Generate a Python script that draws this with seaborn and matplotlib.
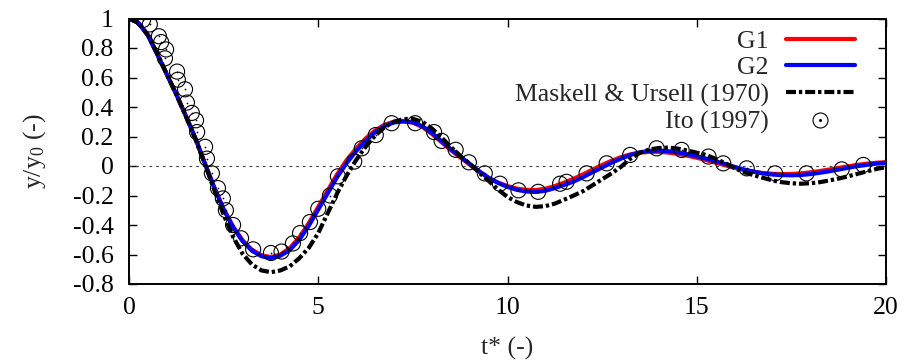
import matplotlib
matplotlib.use("Agg")
import matplotlib.pyplot as plt
import seaborn as sns
import pandas as pd
from matplotlib.lines import Line2D
from matplotlib.legend_handler import HandlerTuple

# ---------------- data ----------------
t_curve = [0.00, 0.25, 0.50, 0.75, 1.00, 1.25, 1.50, 1.75, 2.00, 2.25,
           2.50, 2.75, 3.00, 3.25, 3.50, 3.75, 4.00, 4.25, 4.50, 4.75,
           5.00, 5.25, 5.50, 5.75, 6.00, 6.25, 6.50, 6.75, 7.00, 7.25,
           7.50, 7.75, 8.00, 8.25, 8.50, 8.75, 9.00, 9.25, 9.50, 9.75,
           10.00, 10.25, 10.50, 10.75, 11.00, 11.25, 11.50, 11.75, 12.00, 12.25,
           12.50, 12.75, 13.00, 13.25, 13.50, 13.75, 14.00, 14.25, 14.50, 14.75,
           15.00, 15.25, 15.50, 15.75, 16.00, 16.25, 16.50, 16.75, 17.00, 17.25,
           17.50, 17.75, 18.00, 18.25, 18.50, 18.75, 19.00, 19.25, 19.50, 19.75,
           20.00]

g1 = [1.000, 0.970, 0.886, 0.757, 0.622, 0.487, 0.342, 0.192, 0.022, -0.143,
      -0.291, -0.410, -0.503, -0.568, -0.605, -0.618, -0.600, -0.556, -0.484, -0.387,
      -0.277, -0.166, -0.056, 0.040, 0.118, 0.186, 0.240, 0.280, 0.300, 0.304,
      0.294, 0.265, 0.218, 0.163, 0.108, 0.058, 0.010, -0.038, -0.080, -0.112,
      -0.136, -0.153, -0.162, -0.163, -0.154, -0.136, -0.112, -0.086, -0.056, -0.024,
      0.007, 0.036, 0.060, 0.079, 0.091, 0.096, 0.096, 0.091, 0.082, 0.070,
      0.056, 0.040, 0.022, 0.005, -0.012, -0.027, -0.039, -0.048, -0.053, -0.055,
      -0.054, -0.050, -0.043, -0.034, -0.024, -0.013, -0.002, 0.008, 0.016, 0.022,
      0.026]

g2 = [1.000, 0.970, 0.885, 0.755, 0.620, 0.485, 0.340, 0.190, 0.020, -0.145,
      -0.295, -0.415, -0.510, -0.575, -0.612, -0.625, -0.608, -0.570, -0.500, -0.405,
      -0.295, -0.185, -0.075, 0.020, 0.100, 0.170, 0.228, 0.272, 0.295, 0.302,
      0.296, 0.270, 0.225, 0.170, 0.115, 0.064, 0.015, -0.035, -0.080, -0.115,
      -0.142, -0.162, -0.173, -0.176, -0.168, -0.150, -0.128, -0.105, -0.075, -0.042,
      -0.010, 0.022, 0.050, 0.075, 0.093, 0.102, 0.105, 0.100, 0.092, 0.080,
      0.066, 0.050, 0.032, 0.014, -0.006, -0.024, -0.038, -0.050, -0.058, -0.062,
      -0.063, -0.061, -0.055, -0.046, -0.036, -0.024, -0.012, -0.001, 0.008, 0.016,
      0.022]

maskell_ursell = [1.000, 0.972, 0.888, 0.760, 0.622, 0.484, 0.338, 0.185, 0.015, -0.160,
                  -0.330, -0.480, -0.595, -0.668, -0.708, -0.720, -0.708, -0.680, -0.625, -0.555,
                  -0.455, -0.320, -0.185, -0.065, 0.040, 0.130, 0.205, 0.262, 0.300, 0.318,
                  0.320, 0.300, 0.255, 0.195, 0.130, 0.070, 0.015, -0.045, -0.100, -0.160,
                  -0.210, -0.245, -0.268, -0.277, -0.272, -0.255, -0.228, -0.200, -0.170, -0.130,
                  -0.090, -0.050, -0.005, 0.050, 0.090, 0.112, 0.122, 0.125, 0.118, 0.105,
                  0.090, 0.075, 0.048, 0.020, -0.015, -0.042, -0.062, -0.080, -0.098, -0.110,
                  -0.117, -0.120, -0.117, -0.110, -0.098, -0.085, -0.070, -0.053, -0.036, -0.020,
                  -0.008]

ito_t = [0.37, 0.55, 0.79, 0.85, 0.98, 0.95, 1.27, 1.29, 1.48, 1.53,
         1.66, 1.77, 1.80, 2.01, 2.06, 2.19, 2.35, 2.48, 2.56, 2.75,
         2.96, 3.28, 3.75, 4.03, 4.33, 4.52, 4.78, 5.00, 5.31, 5.52,
         5.95, 6.15, 6.52, 6.94, 7.56, 8.06, 8.26, 8.63, 8.98, 9.40,
         9.80, 10.29, 10.81, 11.39, 11.56, 12.09, 12.62, 13.24, 13.94, 14.60,
         15.31, 15.70, 16.32, 17.07, 17.90, 18.83, 19.40]
ito_y = [0.99, 0.96, 0.88, 0.84, 0.79, 0.73, 0.64, 0.585, 0.52, 0.43,
         0.36, 0.31, 0.23, 0.13, 0.05, -0.05, -0.15, -0.22, -0.30, -0.40,
         -0.49, -0.565, -0.59, -0.58, -0.525, -0.455, -0.38, -0.29, -0.20, -0.07,
         0.03, 0.12, 0.21, 0.29, 0.29, 0.23, 0.17, 0.11, 0.025, -0.05,
         -0.12, -0.165, -0.175, -0.12, -0.107, -0.05, 0.018, 0.075, 0.12, 0.109,
         0.064, 0.018, -0.016, -0.05, -0.05, -0.023, 0.007]

labels = ["G1", "G2", "Maskell & Ursell (1970)", "Ito (1997)"]
x_ticks = [0, 5, 10, 15, 20]
y_ticks = [-0.8, -0.6, -0.4, -0.2, 0, 0.2, 0.4, 0.6, 0.8, 1]

# ---------------- style ----------------
sns.set_theme(style="ticks")
FS = 18.5
plt.rcParams.update({
    "font.family": "serif",
    "font.serif": ["Liberation Serif", "DejaVu Serif"],
    "mathtext.fontset": "custom",
    "mathtext.rm": "Liberation Serif",
    "mathtext.it": "Liberation Serif:italic",
    "mathtext.default": "regular",
    "axes.unicode_minus": False,
    "font.size": FS,
})

fig = plt.figure(figsize=(9.06, 3.62), dpi=100)
ax = fig.add_axes([129 / 906, 78 / 362, 757 / 906, 265.5 / 362])

df = pd.DataFrame({"t": t_curve, "G1": g1, "G2": g2, "MU": maskell_ursell})

ax.axhline(0, color="#444444", lw=0.8, ls=(0, (2.5, 3.5)), zorder=1)

mu_dash = (0, (2.4, 0.7, 0.8, 0.7))
sns.lineplot(data=df, x="t", y="G1", ax=ax, color="#ff0000", lw=3, zorder=2)
sns.lineplot(data=df, x="t", y="G2", ax=ax, color="#0000ff", lw=3, zorder=3)
sns.lineplot(data=df, x="t", y="MU", ax=ax, color="black", lw=3, ls=mu_dash, zorder=4)
sns.scatterplot(x=ito_t, y=ito_y, ax=ax, marker="o", s=118, facecolors="none",
                edgecolors="black", linewidths=0.8, zorder=5)
sns.scatterplot(x=ito_t, y=ito_y, ax=ax, marker="o", s=1.5, color="black",
                linewidth=0, zorder=6)

ax.set_xlim(0, 20)
ax.set_ylim(-0.8, 1)
ax.set_xticks(x_ticks)
ax.set_yticks(y_ticks)
ax.set_xticklabels([f"{v:g}" for v in x_ticks])
ax.set_yticklabels([f"{v:g}" for v in y_ticks])
ax.tick_params(direction="in", length=5.5, width=1, top=True, right=True,
               labelsize=FS, colors="black")
ax.tick_params(axis="x", pad=9)
ax.tick_params(axis="y", pad=11)
for s in ax.spines.values():
    s.set_linewidth(1.4)
    s.set_color("black")
ax.grid(False)

ax.set_xlabel("t* (-)", fontsize=FS, labelpad=13)
ax.set_ylabel("y/y$_0$ (-)", fontsize=FS, labelpad=18)

# legend
h_g1 = Line2D([], [], color="#ff0000", lw=3)
h_g2 = Line2D([], [], color="#0000ff", lw=3)
h_mu = Line2D([], [], color="black", lw=3, ls=mu_dash)
h_c = Line2D([], [], ls="none", marker="o", ms=10.8, mfc="none", mec="black", mew=0.8)
h_d = Line2D([], [], ls="none", marker="o", ms=1.2, mfc="black", mec="black")
leg = ax.legend([h_g1, h_g2, h_mu, (h_c, h_d)], labels,
                handler_map={tuple: HandlerTuple(ndivide=1, pad=0)},
                loc="upper right", bbox_to_anchor=(0.959, 0.958),
                frameon=False, markerfirst=False, borderpad=0, borderaxespad=0,
                handlelength=2.7, handletextpad=0.65, labelspacing=0.15,
                fontsize=FS)
leg._legend_handle_box.get_children()[0].align = "right"

fig.savefig("out.png", dpi=100)
